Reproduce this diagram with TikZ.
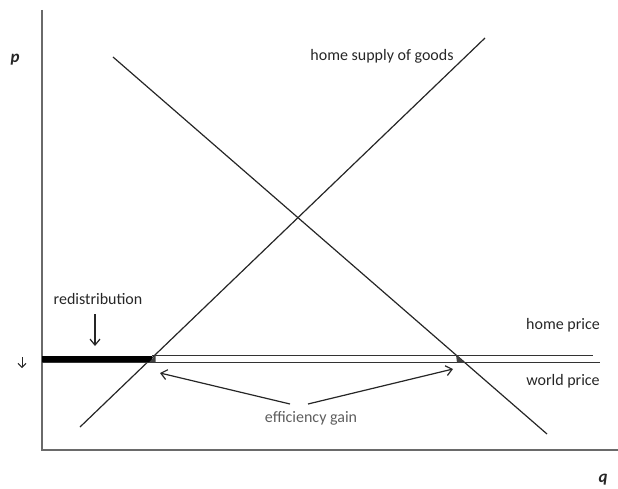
\documentclass[tikz,border=0pt]{standalone}
\usepackage{fontspec}
\setmainfont{Carlito}
\usetikzlibrary{arrows.meta}
\definecolor{labelgray}{HTML}{262626}
\definecolor{gaingray}{HTML}{5E5E5E}
\definecolor{axisgray}{HTML}{6A6A6A}
\tikzset{
  curve/.style={draw=black!85, line width=1.2pt},
  axisline/.style={draw=axisgray, line width=1.7pt},
  priceline/.style={draw=black!80, line width=1pt},
  lbl/.style={text=labelgray, font=\fontsize{16}{18}\selectfont, inner sep=0pt},
  gainlbl/.style={text=gaingray, font=\fontsize{16}{18}\selectfont, inner sep=0pt},
  axislbl/.style={text=labelgray, font=\fontsize{17}{19}\selectfont\bfseries\itshape, inner sep=0pt},
  pointer/.style={draw=black!85, line width=1.2pt, -{Straight Barb[length=6pt,width=10pt]}},
}
\begin{document}
\begin{tikzpicture}[x=1pt,y=-1pt]
\useasboundingbox (0,0) rectangle (618,489);
% axes
\coordinate (ytop) at (42,10);
\coordinate (origin) at (42,450);
\coordinate (xend) at (618,450);
\draw[axisline] (ytop) -- (origin) -- (xend);
\node[axislbl] (p) at (15,60) {p};
\node[axislbl] (q) at (603,480) {q};
% supply and demand
\coordinate (s1) at (80,427);
\coordinate (s2) at (485,38);
\coordinate (d1) at (113,57);
\coordinate (d2) at (547,434);
\draw[curve] (s1) -- (s2);
\draw[curve] (d1) -- (d2);
% redistribution bar
\fill[black] (42,355.5) rectangle (152,363);
% price lines
\coordinate (hp1) at (152,355);
\coordinate (hp2) at (593,355);
\coordinate (wp1) at (42,362.5);
\coordinate (wp2) at (600,362.5);
\draw[priceline] (hp1) -- (hp2);
\draw[priceline] (wp1) -- (wp2);
% small dark triangles at intersections
\fill[black!75] (149,362.5) -- (155.5,355) -- (155.5,362.5) -- cycle;
\fill[black!75] (456,355) -- (464.5,362.5) -- (457,362.5) -- cycle;
% labels
\node[lbl] (supply) at (382,56) {home supply of goods};
\node[lbl] (home) at (563,325) {home price};
\node[lbl] (world) at (563,381) {world price};
\node[lbl] (redis) at (98,299) {redistribution};
\node[gainlbl] (gain) at (311,418) {efficiency gain};
% arrows
\coordinate (ra) at (95,314);
\coordinate (rb) at (95,346);
\draw[pointer] (ra) -- (rb);
\coordinate (la) at (22,357);
\coordinate (lb) at (22,368);
\draw[draw=black!85, line width=1pt, -{Straight Barb[length=4pt,width=8pt]}] (la) -- (lb);
\coordinate (g1) at (290,404);
\coordinate (g1e) at (160,373);
\coordinate (g2) at (308,404);
\coordinate (g2e) at (453,369);
\draw[pointer] (g1) -- (g1e);
\draw[pointer] (g2) -- (g2e);
\end{tikzpicture}
\end{document}
